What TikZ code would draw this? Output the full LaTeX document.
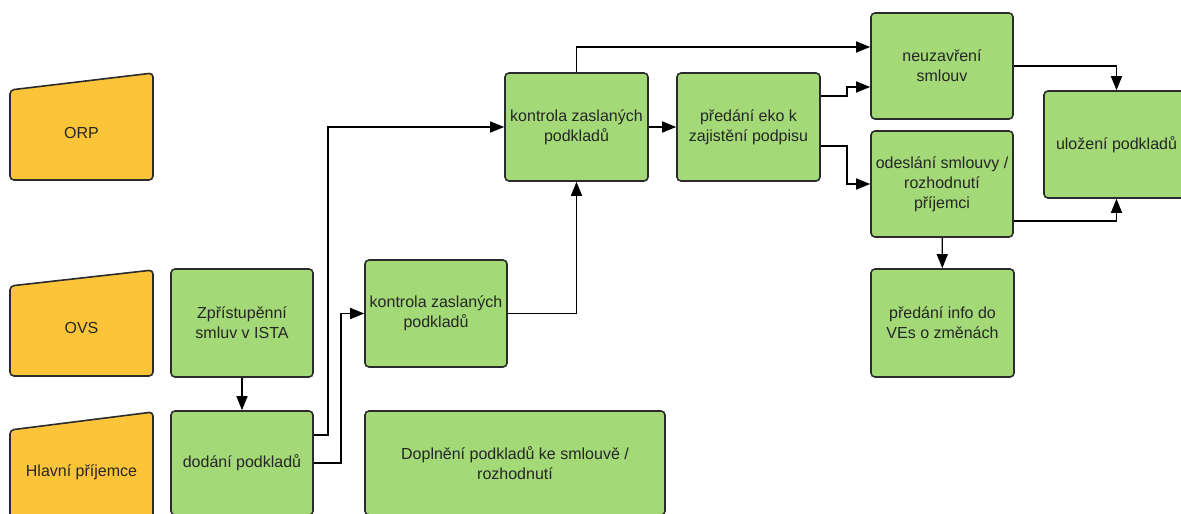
\documentclass[tikz,border=0pt]{standalone}
\usepackage{fontspec}
\setmainfont{Liberation Sans}
\usetikzlibrary{arrows.meta}
\definecolor{boxgreen}{HTML}{A3D977}
\definecolor{laneyellow}{HTML}{FCC438}
\definecolor{edgecol}{HTML}{2B2B2B}
\begin{document}
\begin{tikzpicture}[x=1pt,y=-1pt,
  box/.style={draw=edgecol, line width=1.6pt, fill=boxgreen, rounded corners=4pt,
    align=center, font=\fontsize{16}{20}\selectfont, text=black!85, inner sep=0pt},
  lane/.style={draw=edgecol, line width=1.6pt, fill=laneyellow, rounded corners=4pt},
  lanetext/.style={font=\fontsize{16}{20}\selectfont, text=black!85, inner sep=0pt},
  conn/.style={draw=black, line width=1.4pt, -{Triangle[length=14pt,width=11pt]}}]
\useasboundingbox (0,0) rectangle (1181,514);
\fill[white] (0,0) rectangle (1181,514);
\clip (0,0) rectangle (1181,514);
% lanes
\draw[lane] (10,90) -- (153,73) -- (153,180) -- (10,180) -- cycle;
\node[lanetext] (orp) at (81.5,133) {ORP};
\draw[lane] (10,286) -- (153,270) -- (153,376) -- (10,376) -- cycle;
\node[lanetext] (ovs) at (81.5,328) {OVS};
\draw[lane] (10,430) -- (153,412) -- (153,530) -- (10,530) -- cycle;
\node[lanetext] (hp) at (81.5,472) {Hlavní příjemce};
% boxes
\node[box, minimum width=142pt, minimum height=108pt] (zp) at (242,323) {Zpřístupěnní\\smluv v ISTA};
\node[box, minimum width=142pt, minimum height=104pt] (dod) at (242,463) {dodání podkladů};
\node[box, minimum width=142pt, minimum height=107pt] (kl) at (436,313.5) {kontrola zaslaných\\podkladů};
\node[box, minimum width=300pt, minimum height=104pt] (dopl) at (515,463) {Doplnění podkladů ke smlouvě /\\rozhodnutí};
\node[box, minimum width=143pt, minimum height=108pt] (ku) at (576.5,127) {kontrola zaslaných\\podkladů};
\node[box, minimum width=143pt, minimum height=108pt] (pe) at (748.5,127) {předání eko k\\zajistění podpisu};
\node[box, minimum width=142pt, minimum height=106pt] (ne) at (942,66) {neuzavření\\smlouv};
\node[box, minimum width=142pt, minimum height=106pt] (od) at (942,184) {odeslání smlouvy /\\rozhodnutí\\příjemci};
\node[box, minimum width=145pt, minimum height=107pt] (ul) at (1116.5,144.5) {uložení podkladů};
\node[box, minimum width=143pt, minimum height=108pt] (pi) at (942.5,323) {předání info do\\VEs o změnách};
% connectors
\draw[conn] (zp) -- (dod);
\draw[conn] ([yshift=28pt]dod.east) -- ++(14pt,0pt) |- (ku.west);
\draw[conn] (dod.east) -- ++(27pt,0pt) |- (kl.west);
\draw[conn] (kl.east) -| (ku.south);
\draw[conn] (ku.north) |- ([yshift=19pt]ne.west);
\draw[conn] (ku) -- (pe);
\draw[conn] ([yshift=31pt]pe.east) -- ++(26pt,0pt) |- ([yshift=-21pt]ne.west);
\draw[conn] ([yshift=-19pt]pe.east) -- ++(26pt,0pt) |- (od.west);
\draw[conn] (ne.east) -| (ul.north);
\draw[conn] ([yshift=-37pt]od.east) -| (ul.south);
\draw[conn] (od) -- (pi);
\end{tikzpicture}
\end{document}
